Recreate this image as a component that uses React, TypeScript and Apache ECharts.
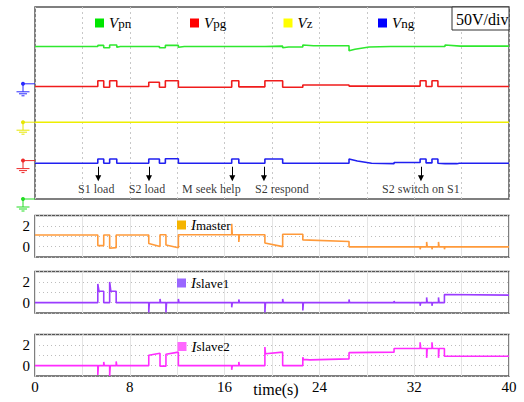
import React, { useEffect, useRef } from 'react';
import * as echarts from 'echarts';

const SERIF = 'Liberation Serif';

// ---------- data ----------
const VOLTS_PER_DIV = 50;
const TOP_DIVS = 10;
// trace zero levels (in divisions from bottom of the top panel)
const GROUND_VPN = 0;
const GROUND_VPG = 2;
const GROUND_VZ = 4;
const GROUND_VNG = 6;

const vpn: [number, number][] = [
  [0, 397], [5.3, 397], [5.3, 400], [5.8, 400], [5.8, 394], [6.3, 394], [6.3, 401], [6.9, 401], [6.9, 395], [7.2, 397],
  [10.5, 397], [10.5, 394], [11.0, 394], [11.0, 400], [12.1, 400], [12.1, 395], [12.6, 397],
  [19.4, 397], [19.4, 398], [20.9, 398], [20.9, 394], [21.4, 396], [22.6, 396], [22.6, 401], [23.5, 399], [26.5, 399],
  [26.5, 386], [27.0, 390], [28.2, 396], [30, 397], [34.6, 397], [34.6, 401], [35.9, 398], [40, 398],
];
const vpg: [number, number][] = [
  [0, 193], [5.3, 193], [5.3, 208], [5.8, 208], [5.8, 191], [6.3, 191], [6.3, 208], [6.9, 208], [6.9, 193],
  [9.6, 193], [9.6, 204], [10.5, 204], [10.5, 191], [11.0, 191], [11.0, 208], [12.1, 208], [12.1, 191],
  [16.6, 191], [16.6, 208], [17.2, 208], [17.2, 192], [19.4, 192], [19.4, 208], [20.9, 208], [20.9, 191],
  [22.6, 191], [22.6, 197], [26.5, 197], [26.5, 194], [32.5, 194], [32.5, 208], [33.0, 208], [33.0, 193],
  [33.5, 193], [33.5, 208], [34.0, 208], [34.0, 193], [40, 193],
];
const vz: [number, number][] = [[0, 0], [40, 0]];
const vng: [number, number][] = [
  [0, -207], [5.3, -207], [5.3, -196], [5.8, -196], [5.8, -207], [6.3, -207], [6.3, -196], [6.9, -196], [6.9, -207],
  [9.6, -207], [9.6, -196], [10.5, -196], [10.5, -207], [11.0, -207], [11.0, -195], [12.1, -195], [12.1, -207],
  [16.6, -207], [16.6, -196], [17.2, -196], [17.2, -207], [19.4, -207], [19.4, -196], [20.9, -196], [20.9, -207],
  [26.5, -207], [26.5, -196], [27.2, -201], [28.4, -207], [30.3, -208], [30.3, -205], [32.5, -205], [32.5, -196],
  [33.0, -196], [33.0, -206], [33.5, -206], [33.5, -196], [34.0, -196], [34.0, -207], [34.6, -208], [35.6, -208],
  [35.8, -207], [40, -207],
];

const iMaster: [number, number][] = [
  [0, 1.12], [5.3, 1.12], [5.3, 0.1], [5.8, 0.1], [5.8, 1.12], [6.3, 1.12], [6.3, -0.15], [6.85, -0.1], [6.85, 1.12],
  [9.6, 1.12], [9.6, 0.3], [10.55, 0.02], [10.55, 1.15], [11.05, 1.15], [11.05, 0.15], [12.1, -0.1], [12.1, 1.15],
  [16.6, 1.15], [16.6, 2.2], [16.65, 1.15], [17.2, 1.15], [17.2, 0.45], [17.25, 1.15],
  [19.4, 1.15], [19.4, 0.35], [20.9, 0.0], [20.9, 1.2], [22.6, 1.2], [22.6, 0.65], [26.5, 0.5], [26.5, -0.02],
  [32.5, -0.02], [32.5, -0.25], [32.55, -0.02], [33.05, -0.02], [33.05, 0.45], [33.1, -0.02], [33.5, -0.02],
  [33.5, -0.25], [33.55, -0.02], [34.05, -0.02], [34.05, 0.45], [34.1, -0.02], [34.55, -0.02], [34.55, -0.25],
  [34.6, -0.02], [40, -0.02],
];
const iSlave1: [number, number][] = [
  [0, 0], [5.3, 0], [5.3, 1.8], [5.4, 1.1], [5.8, 1.1], [5.8, 0], [6.3, 0], [6.3, 2.0], [6.4, 1.1], [6.85, 1.1], [6.85, 0],
  [9.6, 0], [9.6, -0.95], [9.65, 0], [10.55, 0], [10.55, 0.35], [10.6, 0], [11.05, 0], [11.05, -0.95], [11.1, 0],
  [12.1, 0], [12.1, 0.35], [12.15, 0], [16.6, 0], [16.6, -0.45], [16.65, 0], [17.2, 0], [17.2, 0.3], [17.25, 0],
  [19.4, 0], [19.4, -0.95], [19.45, 0], [20.9, 0], [20.9, 0.35], [20.95, 0], [22.6, 0], [22.6, -0.75], [22.65, 0],
  [26.5, 0], [26.5, 0.3], [26.55, 0], [30.3, 0], [30.3, 0.15], [30.35, 0],
  [32.5, 0], [32.5, -0.3], [32.55, 0], [33.05, 0], [33.05, 0.5], [33.1, 0], [33.5, 0], [33.5, -0.3], [33.55, 0],
  [34.05, 0], [34.05, 0.5], [34.1, 0], [34.55, 0], [34.55, 0.78], [40, 0.72],
];
const iSlave2: [number, number][] = [
  [0, 0], [5.3, 0], [5.3, -0.9], [5.35, 0], [5.8, 0], [5.8, 0.35], [5.85, 0], [6.3, 0], [6.3, -1.0], [6.35, 0],
  [6.85, 0], [6.85, 0.4], [6.9, 0],
  [9.6, 0], [9.6, 1.0], [10.55, 1.2], [10.55, -0.05], [11.05, -0.05], [11.05, 1.1], [12.1, 1.3], [12.1, 0],
  [16.6, 0], [16.6, -0.4], [16.65, 0], [17.2, 0], [17.2, 0.35], [17.25, 0],
  [19.4, 0], [19.4, 1.8], [19.45, 1.15], [20.9, 1.3], [20.9, 0], [22.6, 0], [22.6, 0.8], [22.65, 0.6], [23.2, 0.55],
  [26.5, 0.65], [26.5, 1.25], [30.3, 1.3], [30.3, 1.65],
  [32.5, 1.65], [32.5, 2.25], [32.55, 1.65], [33.05, 1.65], [33.05, 0.75], [33.1, 1.65], [33.5, 1.65], [33.5, 2.25],
  [33.55, 1.65], [34.05, 1.65], [34.05, 0.75], [34.1, 1.65], [34.55, 1.65], [34.55, 0.9], [40, 0.9],
];

const eventTimes = [5.34, 9.62, 16.65, 19.32, 32.57];
const eventLabels = ['S1 load', 'S2 load', 'M seek help', 'S2 respond', 'S2 switch on S1'];
const CURRENT_TICK_LABELS = [0, 2];
const TIME_LABEL_STEP = 8;

// ---------- layout / style ----------
const LEFT = 35;
const WIDTH = 474;
const labelDx = [-2, -2, -21, 18, 0];
const ARROW_TOP = 1.68;
const ARROW_END = 1.08;
const LABEL_Y = 0.5;

const SUBS: Record<string, [string, string]> = {
  Vpn: ['V', 'pn'], Vpg: ['V', 'pg'], Vz: ['V', 'z'], Vng: ['V', 'ng'],
  Imaster: ['I', 'master'], Islave1: ['I', 'slave1'], Islave2: ['I', 'slave2'],
};

function legendFor(name: string, color: string, left: number, top: number, big: number, small: number) {
  return {
    data: [{ name, itemStyle: { color } }],
    left, top, icon: 'rect', itemWidth: 9, itemHeight: 9, padding: 0, itemGap: 0,
    selectedMode: false,
    formatter: (n: string) => `{i|${SUBS[n][0]}}{s|${SUBS[n][1]}}`,
    textStyle: {
      fontFamily: SERIF,
      rich: {
        i: { fontFamily: SERIF, fontStyle: 'italic', fontSize: big, color: '#000' },
        s: { fontFamily: SERIF, fontSize: small, color: '#000' },
      },
    },
  };
}

const toDivs = (arr: [number, number][], ground: number) =>
  arr.map(([t, v]) => [t, ground + v / VOLTS_PER_DIV]);

function buildOption(): any {
  const bottomTops = [215.5, 271.5, 334.5];
  const gridBase = { left: LEFT, width: WIDTH, show: true, borderColor: '#555', borderWidth: 1.5, backgroundColor: '#fff', outerBoundsMode: 'none', containLabel: false };
  const grids: any[] = [
    { ...gridBase, top: 7, height: 192 },
    ...bottomTops.map((t) => ({ ...gridBase, top: t, height: 41.5 })),
  ];
  const xAxes: any[] = [
    {
      gridIndex: 0, type: 'value', min: 0, max: 40, interval: 4,
      axisLine: { show: false }, axisTick: { show: false }, axisLabel: { show: false },
      splitLine: { show: true, lineStyle: { color: '#c8c8c8', type: [2, 3], width: 1 } },
    },
    ...[1, 2, 3].map((g) => ({
      gridIndex: g, type: 'value', min: 0, max: 40, interval: 4,
      axisLine: { show: false }, axisTick: { show: false },
      axisLabel: g === 3
        ? {
            show: true, margin: 3, color: '#000', fontFamily: SERIF, fontSize: 15,
            formatter: (v: number) => (v % TIME_LABEL_STEP === 0 ? String(v) : ''),
          }
        : { show: false },
      splitLine: { show: true, lineStyle: { color: '#e4e4e4', width: 1 } },
      name: g === 3 ? 'time(s)' : '',
      nameLocation: 'middle', nameGap: 5, nameMoveOverlap: false,
      nameTextStyle: { fontFamily: SERIF, fontSize: 16, color: '#000', padding: [0, 0, 0, 8], verticalAlign: 'top' },
    })),
  ];
  const yAxes: any[] = [
    { gridIndex: 0, type: 'value', min: 0, max: TOP_DIVS, show: false },
    ...[1, 2, 3].map((g) => ({
      gridIndex: g, type: 'value', min: -1, max: 3, interval: 1,
      axisLine: { show: false }, axisTick: { show: false },
      axisLabel: {
        margin: 5, color: '#000', fontFamily: SERIF, fontSize: 15,
        formatter: (v: number) => (CURRENT_TICK_LABELS.includes(v) ? String(v) : ''),
      },
      splitLine: { show: true, lineStyle: { color: '#bdbdbd', type: [1, 3], width: 1 } },
    })),
  ];

  const line = (name: string, data: any[], color: string, idx: number, extra: any = {}) => ({
    name, type: 'line', data, xAxisIndex: idx, yAxisIndex: idx, showSymbol: false, symbol: 'none',
    lineStyle: { color, width: 1.6 }, itemStyle: { color }, silent: true, z: 3, ...extra,
  });

  const series: any[] = [
    line('Vpn', toDivs(vpn, GROUND_VPN), '#2fe82f', 0),
    line('Vpg', toDivs(vpg, GROUND_VPG), '#f01c1c', 0),
    line('Vz', toDivs(vz, GROUND_VZ), '#eeee00', 0, {
      markLine: {
        silent: true, animation: false, symbol: ['none', 'triangle'], symbolSize: 6,
        lineStyle: { color: '#000', width: 1, type: 'solid' }, label: { show: false },
        data: eventTimes.map((t) => [{ coord: [t, ARROW_TOP] }, { coord: [t, ARROW_END] }]),
      },
    }),
    line('Vng', toDivs(vng, GROUND_VNG), '#2020f0', 0),
    {
      name: 'events', type: 'scatter', xAxisIndex: 0, yAxisIndex: 0, symbolSize: 0, silent: true,
      data: eventTimes.map((t, i) => ({
        value: [t, LABEL_Y], name: eventLabels[i],
        label: { show: true, position: 'inside', offset: [labelDx[i], 0], formatter: '{b}', color: '#000', fontFamily: SERIF, fontSize: 12 },
      })),
    },
    line('Imaster', iMaster, '#ff9a3a', 1),
    line('Islave1', iSlave1, '#9b3cff', 2),
    line('Islave2', iSlave2, '#ff2cff', 3),
  ];

  const legends = [
    legendFor('Vpn', '#00e600', 95, 15.5, 15, 13),
    legendFor('Vpg', '#ff0000', 190, 15.5, 15, 13),
    legendFor('Vz', '#ffff00', 283.5, 15.5, 15, 13),
    legendFor('Vng', '#0000ff', 378, 15.5, 15, 13),
    legendFor('Imaster', '#f5b400', 177, 217.5, 15, 13),
    legendFor('Islave1', '#9966ff', 177, 275.5, 15, 13),
    legendFor('Islave2', '#ff66ff', 177.5, 339, 15, 13),
  ];

  return {
    animation: false,
    backgroundColor: '#fff',
    textStyle: { fontFamily: SERIF },
    grid: grids,
    xAxis: xAxes,
    yAxis: yAxes,
    legend: legends,
    series,
  };
}

function groundMarker(color: string, y: number, axisX: number) {
  const s = { stroke: color, lineWidth: 1 };
  return {
    type: 'group', silent: true, z: 10,
    children: [
      { type: 'line', shape: { x1: 23, y1: y, x2: axisX, y2: y }, style: s },
      { type: 'line', shape: { x1: 23, y1: y, x2: 23, y2: y + 8 }, style: s },
      { type: 'line', shape: { x1: 16.5, y1: y + 8, x2: 29.5, y2: y + 8 }, style: s },
      { type: 'line', shape: { x1: 19, y1: y + 10, x2: 27, y2: y + 10 }, style: s },
      { type: 'line', shape: { x1: 21.5, y1: y + 12, x2: 24.5, y2: y + 12 }, style: s },
      { type: 'circle', shape: { cx: 23, cy: y, r: 2 }, style: { fill: color } },
    ],
  };
}

export default function App() {
  const ref = useRef<HTMLDivElement>(null);
  useEffect(() => {
    if (!ref.current) return;
    document.body.style.margin = '0';
    const chart = echarts.init(ref.current, null, { renderer: 'svg' });
    chart.setOption(buildOption());
    const axisX = chart.convertToPixel({ xAxisIndex: 0 }, 0) as number;
    const rightX = chart.convertToPixel({ xAxisIndex: 0 }, 40) as number;
    const gy = (v: number) => chart.convertToPixel({ yAxisIndex: 0 }, v) as number;
    const topY = gy(TOP_DIVS);
    chart.setOption({
      graphic: [
        groundMarker('#2a2aff', gy(GROUND_VNG), axisX),
        groundMarker('#e6e600', gy(GROUND_VZ), axisX),
        groundMarker('#ee2a2a', gy(GROUND_VPG), axisX),
        groundMarker('#22dd22', gy(GROUND_VPN), axisX),
        {
          type: 'rect', z: 20, silent: true,
          shape: { x: rightX - 57, y: topY, width: 57, height: 23 },
          style: { fill: '#fff', stroke: '#333', lineWidth: 1 },
        },
        {
          type: 'text', z: 21, silent: true, x: rightX - 53, y: topY + 12,
          style: { text: '50V/div', fontFamily: SERIF, fontSize: 16, fill: '#000', verticalAlign: 'middle' },
        },
      ],
    });
    return () => chart.dispose();
  }, []);
  return <div ref={ref} style={{ width: 524, height: 402 }} />;
}
